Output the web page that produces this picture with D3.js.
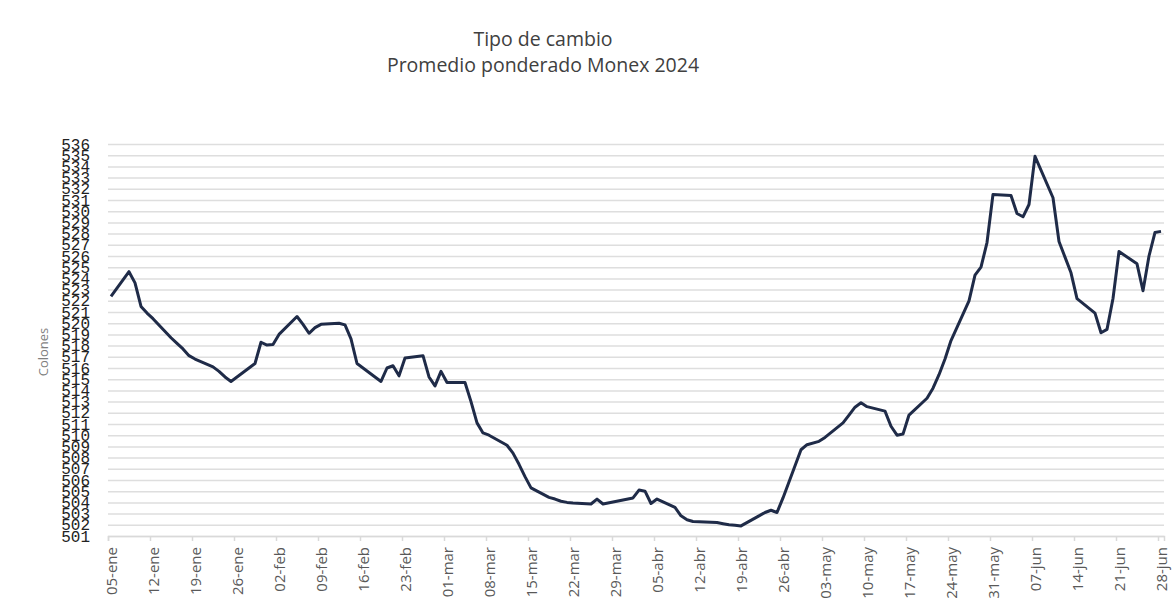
<!DOCTYPE html>
<html lang="es">
<head>
<meta charset="utf-8">
<script src="https://cdn.jsdelivr.net/npm/d3@7"></script>
<style>
	body { margin: 0; background: #fff; }
	svg { display: block; }
</style>
</head>
<body>
<svg id="chart"></svg>
<script>
// Datos: promedio ponderado diario Monex 2024 (colones por dólar)
const fechas = [
	'2024-01-05', '2024-01-08', '2024-01-09', '2024-01-10', '2024-01-11', '2024-01-12',
	'2024-01-15', '2024-01-16', '2024-01-17', '2024-01-18', '2024-01-19',
	'2024-01-22', '2024-01-23', '2024-01-24', '2024-01-25', '2024-01-26',
	'2024-01-29', '2024-01-30', '2024-01-31', '2024-02-01', '2024-02-02',
	'2024-02-05', '2024-02-06', '2024-02-07', '2024-02-08', '2024-02-09',
	'2024-02-12', '2024-02-13', '2024-02-14', '2024-02-15', '2024-02-16',
	'2024-02-19', '2024-02-20', '2024-02-21', '2024-02-22', '2024-02-23',
	'2024-02-26', '2024-02-27', '2024-02-28', '2024-02-29', '2024-03-01',
	'2024-03-04', '2024-03-05', '2024-03-06', '2024-03-07', '2024-03-08',
	'2024-03-11', '2024-03-12', '2024-03-13', '2024-03-14', '2024-03-15',
	'2024-03-18', '2024-03-19', '2024-03-20', '2024-03-21', '2024-03-22',
	'2024-03-25', '2024-03-26', '2024-03-27',
	'2024-04-01', '2024-04-02', '2024-04-03', '2024-04-04', '2024-04-05',
	'2024-04-08', '2024-04-09', '2024-04-10', '2024-04-11', '2024-04-12',
	'2024-04-15', '2024-04-16', '2024-04-17', '2024-04-18', '2024-04-19',
	'2024-04-22', '2024-04-23', '2024-04-24', '2024-04-25', '2024-04-26',
	'2024-04-29', '2024-04-30', '2024-05-02', '2024-05-03',
	'2024-05-06', '2024-05-07', '2024-05-08', '2024-05-09', '2024-05-10',
	'2024-05-13', '2024-05-14', '2024-05-15', '2024-05-16', '2024-05-17',
	'2024-05-20', '2024-05-21', '2024-05-22', '2024-05-23', '2024-05-24',
	'2024-05-27', '2024-05-28', '2024-05-29', '2024-05-30', '2024-05-31',
	'2024-06-03', '2024-06-04', '2024-06-05', '2024-06-06', '2024-06-07',
	'2024-06-10', '2024-06-11', '2024-06-12', '2024-06-13', '2024-06-14',
	'2024-06-17', '2024-06-18', '2024-06-19', '2024-06-20', '2024-06-21',
	'2024-06-24', '2024-06-25', '2024-06-26', '2024-06-27', '2024-06-28'
];
const valores = [
	522.4, 524.6, 523.6, 521.5, 520.9, 520.4,
	518.7, 518.2, 517.7, 517.1, 516.8,
	516.1, 515.7, 515.2, 514.8, 515.2,
	516.4, 518.3, 518.05, 518.1, 519.0,
	520.6, 519.9, 519.1, 519.6, 519.9,
	520.0, 519.85, 518.6, 516.4, 516.0,
	514.8, 516.0, 516.2, 515.3, 516.9,
	517.1, 515.2, 514.4, 515.7, 514.7,
	514.7, 513.0, 511.1, 510.2, 510.0,
	509.1, 508.4, 507.4, 506.3, 505.3,
	504.45, 504.3, 504.1, 504.0, 503.95,
	503.86, 504.3, 503.86,
	504.4, 505.1, 505.0, 503.9, 504.3,
	503.55, 502.8, 502.45, 502.3, 502.28,
	502.2, 502.1, 502.0, 501.95, 501.9,
	502.8, 503.1, 503.3, 503.1, 504.4,
	508.7, 509.15, 509.45, 509.8,
	511.1, 511.8, 512.5, 512.9, 512.55,
	512.15, 510.8, 510.0, 510.1, 511.8,
	513.3, 514.2, 515.4, 516.8, 518.45,
	522.0, 524.3, 525.0, 527.2, 531.5,
	531.4, 529.8, 529.5, 530.6, 534.9,
	531.2, 527.3, 525.9, 524.5, 522.2,
	520.9, 519.15, 519.45, 522.2, 526.4,
	525.3, 522.9, 526.0, 528.1, 528.2
];
// Etiquetas del eje
const meses = ['ene', 'feb', 'mar', 'abr', 'may', 'jun', 'jul', 'ago', 'set', 'oct', 'nov', 'dic'];
const yTicks = d3.range(501, 537);
const titulo = ['Tipo de cambio', 'Promedio ponderado Monex 2024'];
const yTitulo = 'Colones';

const width = 1172;
const height = 608;
const plot = { left: 108, right: 1164, top: 144, bottom: 536 };

const parse = d3.timeParse('%Y-%m-%d');
const data = fechas.map((f, i) => ({ date: parse(f), value: valores[i] }));

const svg = d3.select('#chart')
	.attr('width', width)
	.attr('height', height);

const x = d3.scaleTime()
	.domain([parse('2024-01-05'), parse('2024-06-29')])
	.range([plot.left, plot.right]);

const y = d3.scaleLinear()
	.domain([501, 536])
	.range([plot.bottom, plot.top]);

// weekly ticks on fridays, like the original
const xTicks = d3.timeFriday.range(parse('2024-01-05'), parse('2024-06-29'));
const fmt = (d) => `${d3.timeFormat('%d')(d)}-${meses[d.getMonth()]}`;

// gridlines
svg.append('g')
	.attr('transform', `translate(${plot.left},0)`)
	.call(d3.axisLeft(y).tickValues(yTicks).tickSize(-(plot.right - plot.left)).tickFormat(''))
	.call((g) => g.select('.domain').remove())
	.call((g) => g.selectAll('line').attr('stroke', '#dedede').attr('stroke-width', 1.5));

// y labels
svg.append('g')
	.attr('transform', `translate(${plot.left},0)`)
	.call(d3.axisLeft(y).tickValues(yTicks).tickSize(0).tickPadding(18).tickFormat(d3.format('d')))
	.call((g) => g.select('.domain').remove())
	.call((g) => g.selectAll('text')
		.attr('font-family', '"Liberation Mono", monospace')
		.attr('font-size', 16)
		.attr('fill', '#222'));

// x axis
svg.append('g')
	.attr('transform', `translate(0,${plot.bottom})`)
	.call(d3.axisBottom(x).tickValues(xTicks).tickSize(5).tickFormat(fmt))
	.call((g) => g.select('.domain').attr('stroke', '#d9d9d9').attr('stroke-width', 1.5))
	.call((g) => g.selectAll('.tick line').attr('stroke', '#d9d9d9').attr('stroke-width', 1.5))
	.call((g) => g.selectAll('text')
		.attr('font-family', '"Open Sans", sans-serif')
		.attr('font-size', 15)
		.attr('fill', '#595959')
		.attr('text-anchor', 'end')
		.attr('transform', 'rotate(-90)')
		.attr('x', -11)
		.attr('y', 0)
		.attr('dy', '0.55em'));

// serie
const line = d3.line()
	.x((d) => x(d3.timeHour.offset(d.date, 12)))
	.y((d) => y(d.value));

svg.append('path')
	.datum(data)
	.attr('d', line)
	.attr('fill', 'none')
	.attr('stroke', '#1f2b48')
	.attr('stroke-width', 3)
	.attr('stroke-linejoin', 'round');

// titles
svg.append('g')
	.selectAll('text')
	.data(titulo)
	.enter()
	.append('text')
	.attr('x', 543)
	.attr('y', (d, i) => 46 + i * 26)
	.attr('text-anchor', 'middle')
	.attr('font-family', '"Open Sans", sans-serif')
	.attr('font-size', 19.5)
	.attr('fill', '#404040')
	.text((d) => d);

svg.append('text')
	.attr('transform', 'translate(48,352) rotate(-90)')
	.attr('text-anchor', 'middle')
	.attr('font-family', '"Open Sans", sans-serif')
	.attr('font-size', 13)
	.attr('fill', '#7f7f7f')
	.text(yTitulo);
</script>
</body>
</html>
